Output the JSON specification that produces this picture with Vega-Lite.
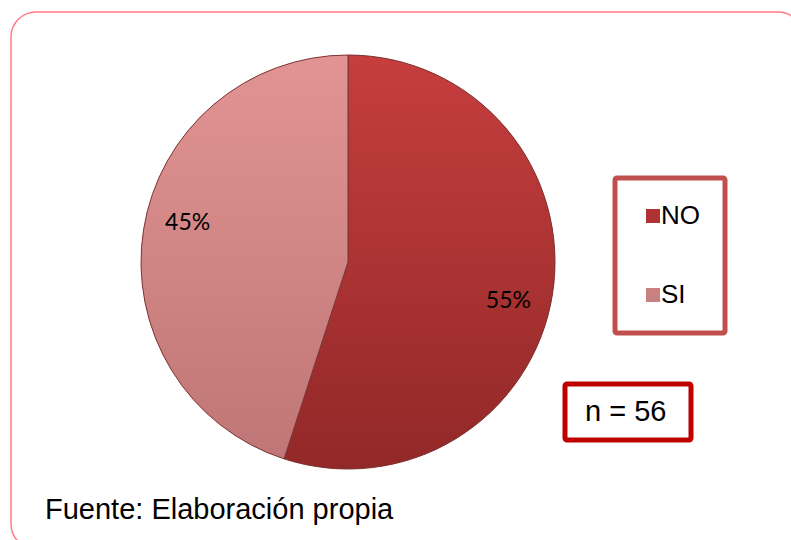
{
  "$schema": "https://vega.github.io/schema/vega-lite/v6.json",
  "width": 792,
  "height": 537,
  "autosize": {"type": "none"},
  "padding": {"left": 11, "top": 12, "right": 0, "bottom": 0},
  "background": "white",
  "view": {"stroke": "#ff7c80", "strokeWidth": 1.5, "cornerRadius": 25, "fill": "white"},
  "config": {
    "view": {"stroke": "#ff7c80", "strokeWidth": 1.5, "cornerRadius": 25},
    "legend": {"strokeWidth": 5, "cornerRadius": 2}
  },
  "title": {
    "text": "Fuente: Elaboración propia",
    "orient": "bottom",
    "anchor": "start",
    "frame": "group",
    "font": "Liberation Sans",
    "fontSize": 29,
    "fontWeight": "normal",
    "color": "black",
    "baseline": "alphabetic",
    "offset": 0,
    "dx": 34,
    "dy": -30
  },
  "data": {
    "values": [
      {"respuesta": "NO", "porcentaje": 0.55},
      {"respuesta": "SI", "porcentaje": 0.45}
    ]
  },
  "layer": [
    {
      "mark": {"type": "arc", "outerRadius": 207, "x": 337, "y": 250},
      "encoding": {
        "theta": {"field": "porcentaje", "type": "quantitative", "stack": true},
        "order": {"field": "respuesta", "sort": "ascending"},
        "color": {
          "field": "respuesta",
          "type": "nominal",
          "scale": {"domain": ["NO", "SI"], "range": ["#b03232", "#c98080"]},
          "legend": {
            "title": null,
            "orient": "none",
            "legendX": 604,
            "legendY": 166,
            "symbolType": "square",
            "symbolSize": 196,
            "symbolStrokeWidth": 0,
            "labelFont": "Liberation Sans",
            "labelFontSize": 26,
            "labelColor": "black",
            "labelOffset": -5,
            "rowPadding": 53,
            "padding": 25,
            "strokeColor": "#c0504d"
          }
        }
      }
    },
    {
      "mark": {
        "type": "arc",
        "outerRadius": 207,
        "x": 337,
        "y": 250,
        "stroke": "#7d3535",
        "strokeWidth": 1
      },
      "encoding": {
        "theta": {"field": "porcentaje", "type": "quantitative", "stack": true},
        "order": {"field": "respuesta", "sort": "ascending"},
        "fill": {
          "condition": {
            "test": "datum.respuesta === 'NO'",
            "value": {
              "gradient": "linear",
              "x1": 0, "y1": 0, "x2": 0, "y2": 1,
              "stops": [
                {"offset": 0, "color": "#c63e3e"},
                {"offset": 1, "color": "#922828"}
              ]
            }
          },
          "value": {
            "gradient": "linear",
            "x1": 0, "y1": 0, "x2": 0, "y2": 1,
            "stops": [
              {"offset": 0, "color": "#e29494"},
              {"offset": 1, "color": "#c07676"}
            ]
          }
        }
      }
    },
    {
      "mark": {
        "type": "text",
        "radius": 165,
        "x": 337,
        "y": 250,
        "thetaOffset": 0.08,
        "font": "Lato",
        "fontSize": 23,
        "color": "black"
      },
      "encoding": {
        "theta": {"field": "porcentaje", "type": "quantitative", "stack": true},
        "order": {"field": "respuesta", "sort": "ascending"},
        "text": {"field": "porcentaje", "type": "quantitative", "format": ".0%"}
      }
    },
    {
      "data": {"values": [{"muestra": "n = 56"}]},
      "mark": {"type": "point", "opacity": 0},
      "encoding": {
        "shape": {
          "field": "muestra",
          "type": "nominal",
          "legend": {
            "title": "\u00a0",
            "titleOrient": "right",
            "titleFontSize": 8,
            "titlePadding": 12,
            "orient": "none",
            "legendX": 554,
            "legendY": 372,
            "symbolSize": 49,
            "symbolOpacity": 0,
            "symbolStrokeWidth": 0,
            "labelFont": "Liberation Sans",
            "labelFontSize": 29,
            "labelColor": "black",
            "labelOffset": -22,
            "padding": 13,
            "strokeColor": "#c00000"
          }
        }
      }
    }
  ]
}
